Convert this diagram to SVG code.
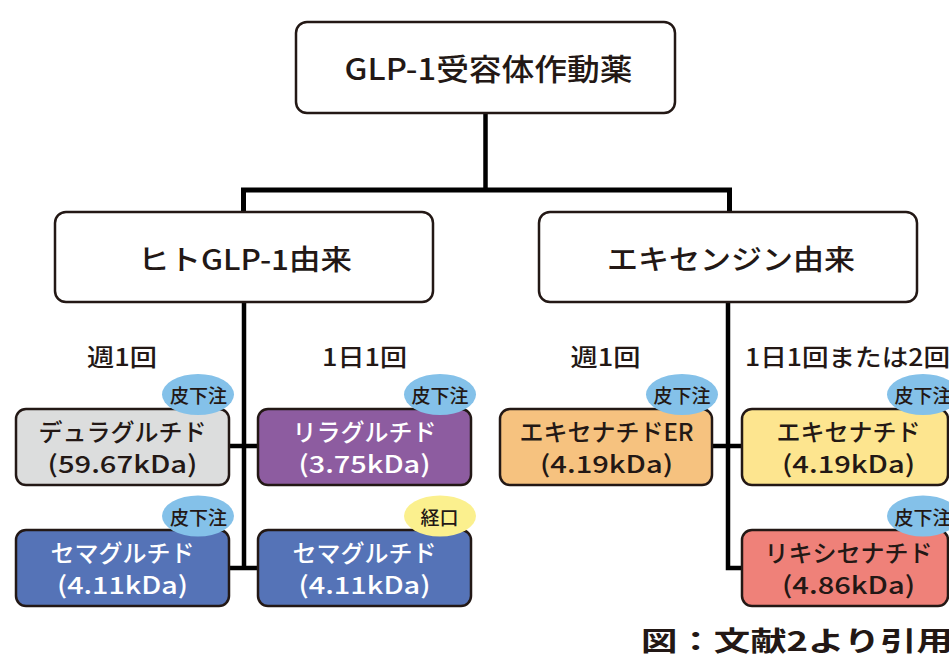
<svg xmlns="http://www.w3.org/2000/svg" width="949" height="657" viewBox="0 0 949 657">
<style>
  text { font-family: "Noto Sans CJK JP", "Noto Sans", sans-serif; text-anchor: middle; }
  .box { stroke: #231815; stroke-width: 2.5; }
  .hdr { fill: #ffffff; }
  .t1 { font-size: 30px; fill: #231815; font-weight: 500; }
  .t2 { font-size: 28px; fill: #231815; font-weight: 500; }
  .nd { font-size: 24px; font-weight: 500; }
  .dk { fill: #231815; }
  .wt { fill: #ffffff; }
  .lbl { font-size: 24px; fill: #231815; font-weight: 500; }
  .bub { font-size: 19px; fill: #231815; font-weight: 500; }
  .bb { fill: #84c1e9; }
  .by { fill: #fbf08e; }
  .conn { fill: none; stroke: #000; stroke-width: 4.5; stroke-linejoin: miter; }
</style>

<g id="connectors">
  <path class="conn" d="M485.5 113 V190"/>
  <path class="conn" d="M243.5 212 V190 H729.5 V212" style="stroke-width:5"/>
  <path class="conn" d="M244 302 V570"/>
  <path class="conn" d="M229 446 H258"/>
  <path class="conn" d="M229 568 H258"/>
  <path class="conn" d="M728 302 V568 H742"/>
  <path class="conn" d="M712 446 H742"/>
</g>

<g id="root">
  <rect class="box hdr" x="296" y="22" width="379" height="91" rx="11"/>
  <text class="t1" x="488.5" y="80" textLength="288" lengthAdjust="spacingAndGlyphs">GLP-1受容体作動薬</text>
</g>

<g id="human">
  <rect class="box hdr" x="55" y="212" width="378" height="90" rx="11"/>
  <text class="t2" x="245" y="270" textLength="214" lengthAdjust="spacingAndGlyphs">ヒトGLP-1由来</text>
</g>

<g id="exendin">
  <rect class="box hdr" x="539" y="212" width="378" height="90" rx="11"/>
  <text class="t2" x="731" y="270" textLength="248" lengthAdjust="spacingAndGlyphs">エキセンジン由来</text>
</g>

<g id="labels">
  <text class="lbl" x="122" y="366" textLength="70" lengthAdjust="spacingAndGlyphs">週1回</text>
  <text class="lbl" x="364.5" y="366" textLength="85" lengthAdjust="spacingAndGlyphs">1日1回</text>
  <text class="lbl" x="605.5" y="366" textLength="70" lengthAdjust="spacingAndGlyphs">週1回</text>
  <text class="lbl" x="745" y="366" style="text-anchor:start" textLength="205" lengthAdjust="spacingAndGlyphs">1日1回または2回</text>
</g>

<g id="dulaglutide">
  <rect class="box" x="16" y="409" width="213" height="76" rx="10" fill="#dcdddd"/>
  <text class="nd dk" x="122.5" y="441">デュラグルチド</text>
  <text class="nd dk" x="122.5" y="473" textLength="150" lengthAdjust="spacingAndGlyphs">(59.67kDa)</text>
  <ellipse class="bb" cx="198" cy="394.5" rx="36" ry="20.5"/>
  <text class="bub" x="198.5" y="403">皮下注</text>
</g>

<g id="liraglutide">
  <rect class="box" x="258" y="409" width="213" height="76" rx="10" fill="#8d5ca0"/>
  <text class="nd wt" x="364.5" y="441">リラグルチド</text>
  <text class="nd wt" x="364.5" y="473" textLength="132" lengthAdjust="spacingAndGlyphs">(3.75kDa)</text>
  <ellipse class="bb" cx="440" cy="394.5" rx="36" ry="20.5"/>
  <text class="bub" x="440" y="403">皮下注</text>
</g>

<g id="semaglutide-sc">
  <rect class="box" x="16" y="530" width="213" height="76" rx="10" fill="#5573b7"/>
  <text class="nd wt" x="122.5" y="562">セマグルチド</text>
  <text class="nd wt" x="122.5" y="594" textLength="131" lengthAdjust="spacingAndGlyphs">(4.11kDa)</text>
  <ellipse class="bb" cx="198" cy="516" rx="36" ry="20.5"/>
  <text class="bub" x="198.5" y="524.5">皮下注</text>
</g>

<g id="semaglutide-oral">
  <rect class="box" x="258" y="530" width="213" height="76" rx="10" fill="#5573b7"/>
  <text class="nd wt" x="364.5" y="562">セマグルチド</text>
  <text class="nd wt" x="364.5" y="594" textLength="132" lengthAdjust="spacingAndGlyphs">(4.11kDa)</text>
  <ellipse class="by" cx="440" cy="516" rx="36" ry="20.5"/>
  <text class="bub" x="439.5" y="524.5">経口</text>
</g>

<g id="exenatide-er">
  <rect class="box" x="500" y="409" width="212" height="76" rx="10" fill="#f6c27f"/>
  <text class="nd dk" x="606.5" y="441">エキセナチドER</text>
  <text class="nd dk" x="606.5" y="473" textLength="133" lengthAdjust="spacingAndGlyphs">(4.19kDa)</text>
  <ellipse class="bb" cx="682" cy="394.5" rx="36" ry="20.5"/>
  <text class="bub" x="682" y="403">皮下注</text>
</g>

<g id="exenatide">
  <rect class="box" x="742" y="409" width="206" height="76" rx="10" fill="#fde58f"/>
  <text class="nd dk" x="848.5" y="441">エキセナチド</text>
  <text class="nd dk" x="848.5" y="473" textLength="133" lengthAdjust="spacingAndGlyphs">(4.19kDa)</text>
  <ellipse class="bb" cx="923" cy="394.5" rx="36" ry="20.5"/>
  <text class="bub" x="923" y="403">皮下注</text>
</g>

<g id="lixisenatide">
  <rect class="box" x="742" y="530" width="206" height="76" rx="10" fill="#ef8179"/>
  <text class="nd dk" x="848.5" y="562">リキシセナチド</text>
  <text class="nd dk" x="848.5" y="594" textLength="133" lengthAdjust="spacingAndGlyphs">(4.86kDa)</text>
  <ellipse class="bb" cx="923" cy="516" rx="36" ry="20.5"/>
  <text class="bub" x="923" y="524.5">皮下注</text>
</g>

<g id="caption">
  <text x="641" y="651" style="text-anchor:start;font-size:27px;font-weight:700;fill:#231815" textLength="312" lengthAdjust="spacingAndGlyphs">図：文献2より引用</text>
</g>
</svg>
